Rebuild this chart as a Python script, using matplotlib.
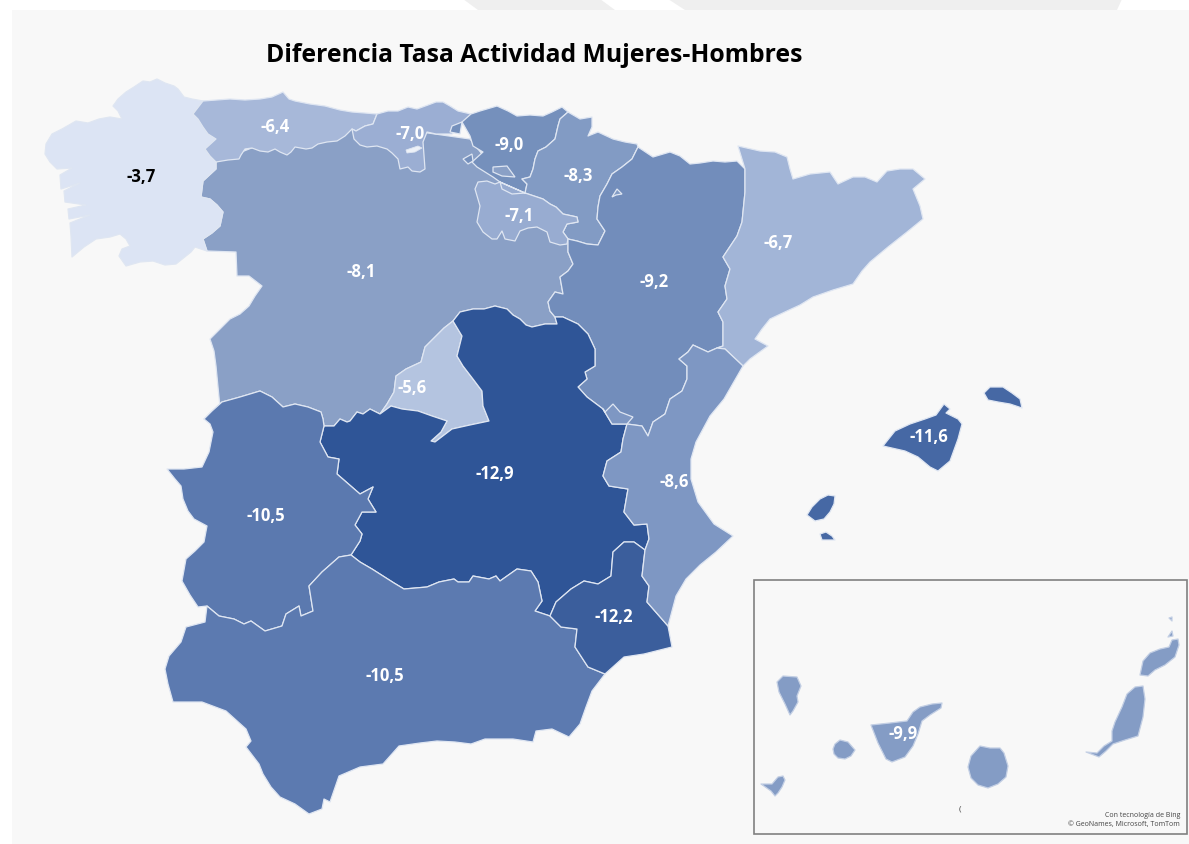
import matplotlib
matplotlib.use('Agg')
import matplotlib.pyplot as plt
from matplotlib.patches import Polygon, Rectangle

# Valores por comunidad autónoma (diferencia tasa actividad)
regions = ['Castilla y León', 'Galicia', 'Asturias', 'Cantabria', 'País Vasco', 'Navarra', 'La Rioja',
           'Aragón', 'Cataluña', 'Madrid', 'Castilla-La Mancha',
           'Extremadura', 'Andalucía', 'Murcia', 'C. Valenciana', 'Baleares', 'Canarias']
values = [-8.1, -3.7, -6.4, -7.0, -9.0, -8.3, -7.1, -9.2, -6.7, -5.6, -12.9,
          -10.5, -10.5, -12.2, -8.6, -11.6, -9.9]
colors = ['#8AA0C6', '#DCE4F4', '#A7B8D9', '#9BAED3', '#7590BC', '#829BC4', '#98ACD1',
          '#728DBB', '#A2B5D7', '#B4C4E0', '#2F5597',
          '#5B79AF', '#5C7AB0', '#3B5E9C', '#7E97C3', '#4668A4', '#849CC5']
label_x = [361, 141, 275, 410, 509, 578, 519, 654, 778, 412, 495, 266, 385, 614, 674, 929, 903]
label_y = [272, 177, 127, 134, 145, 176, 216, 282, 243, 388, 474, 516, 676, 617, 482, 437, 734]
label_colors = ['white', 'black'] + ['white'] * 15

title = 'Diferencia Tasa Actividad Mujeres-Hombres'
credits = 'Con tecnología de Bing\n© GeoNames, Microsoft, TomTom'

# Fronteras compartidas, en píxeles de la imagen
gal_coast = [(203,102),(192,100),(184,98),(178,90),(174,87),(165,84),(157,80),(150,83),(143,82),(134,88),(126,93),
             (118,100),(113,107),(118,112),(122,120),(110,118),(99,120),(88,124),(76,122),(62,130),(52,135),
             (46,145),(45,155),(50,163),(57,170),(72,169),(60,176),(61,190),(80,184),(64,192),
             (65,203),(86,206),(68,210),(69,220),(90,216),(70,224),(71,237),(72,258),(84,248),
             (96,240),(110,238),(120,235),(126,240),(130,247),(122,250),(119,257),(126,267),(140,263),(153,262),
             (165,266),(176,265),(191,253),(195,248),(207,252)]
gal_cyl = [(207,252),(203,240),(212,234),(220,227),(223,213),(217,206),(210,200),(201,198),(203,182),(216,170),(216,163)]
gal_ast = [(216,163),(210,157),(205,150),(216,140),(208,135),(203,128),(198,120),(193,115),(203,102)]
ast_coast = [(203,102),(230,100),(245,101),(260,100),(272,98),(283,93),(289,100),(295,102),(310,105),(325,107),
             (340,111),(352,113),(365,114),(377,115)]
ast_can = [(377,115),(373,125),(365,127),(356,132),(352,130)]
ast_cyl = [(352,130),(345,137),(337,142),(327,143),(318,145),(312,149),(306,150),(295,148),(291,153),(287,156),
           (280,153),(275,150),(268,153),(260,152),(252,149),(245,150),(241,156),(239,160),(228,161),(216,163)]
can_coast = [(377,115),(388,112),(398,112),(408,108),(417,110),(428,106),(436,103),(443,103),(450,107),(458,112),(471,115)]
can_rest = [(471,115),(465,123),(452,135),(436,135),(427,133),(423,143),(425,170),(420,173),(412,172),(408,168),(400,170),
            (398,160),(392,154),(387,150),(377,147),(367,148),(360,146),(354,140),(352,130)]
pv_coast = [(471,115),(480,112),(497,107),(508,112),(517,117),(530,116),(543,117),(552,113),(562,108),(568,113)]
pv_nav = [(568,113),(560,120),(558,127),(555,140),(546,148),(538,152),(535,160),(533,170),(530,178),(522,180),(527,185),(525,194)]
pv_rio = [(525,194),(512,195),(502,190),(500,183)]
pv_cyl = [(500,183),(493,178),(485,173),(477,168),(472,163),(483,153),(473,147),(470,137),(462,123),(471,115)]
nav_coast = [(568,113),(580,120),(592,118),(592,128),(588,137),(598,133),(613,140),(625,143),(637,145),(638,148)]
nav_ara = [(638,148),(632,160),(622,168),(612,175),(607,185),(600,197),(598,208),(597,220),(605,232),(598,246),(587,245),(577,242),(568,240)]
nav_rio = [(568,240),(563,233),(567,225),(578,223),(577,218),(563,215),(556,208),(550,205),(543,200),(534,197),(525,194)]
rio_cyl = [(500,183),(495,185),(487,182),(478,183),(475,190),(480,207),(477,223),(483,233),(492,240),
           (497,240),(502,232),(505,240),(515,242),(520,232),(528,229),(537,228),(547,233),(550,243),(560,246),(567,245),(568,240)]
cyl_ara = [(568,240),(568,253),(573,265),(568,272),(560,278),(563,295),(555,293),(548,303),(550,312),(555,318)]
cyl_clm = [(555,318),(557,325),(545,325),(532,328),(526,326),(520,320),(513,316),(507,310),(495,307),(484,310),(473,310),(460,313),(453,322)]
mad_west = [(453,322),(444,329),(436,337),(425,348),(421,363),(406,370),(396,377),(394,393),(387,405),(380,415)]
cyl_clm2 = [(380,415),(370,410),(363,415),(357,413),(350,422),(347,423),(340,420),(334,427),(324,427)]
cyl_ext = [(324,427),(323,420),(321,413),(308,408),(295,405),(283,408),(272,398),(260,392),(240,398),(222,403),(212,412),(204,420)]
cyl_port = [(204,420),(220,408),(218,388),(216,367),(214,352),(210,340),(220,330),(230,320),(240,315),(249,307),(255,297),(262,287),(249,277),(237,277),
            (236,253),(207,252)]
ext_west = [(204,420),(210,425),(213,433),(209,453),(202,468),(184,470),(167,470),(175,480),(181,487),(183,500),(188,512),(194,520),
            (207,527),(204,543),(195,552),(186,560),(182,582),(190,596),(198,608),(207,607)]
ext_and = [(207,607),(219,617),(234,620),(244,625),(251,622),(265,632),(282,627),(286,615),(299,607),
           (301,617),(313,612),(309,587),(322,573),(339,558),(351,556)]
ext_clm = [(351,556),(360,542),(362,535),(355,526),(362,513),(376,513),(368,500),(373,488),(360,495),
           (337,475),(339,460),(328,458),(320,443),(324,427)]
and_coast = [(207,607),(205,623),(186,628),(181,643),(169,657),(165,670),(168,685),(173,703),(202,703),(226,712),
             (246,730),(251,742),(246,748),(259,765),(263,775),(271,788),(280,798),(295,805),(309,815),(322,810),(324,800),
             (330,803),(339,777),(360,768),(383,765),(399,747),(420,744),(437,742),(455,743),(471,745),(485,740),(513,740),
             (533,743),(536,732),(552,730),(569,738),(580,725),(586,708),(592,692),(605,675)]
and_mur = [(605,675),(588,668),(575,648),(577,630),(561,628),(550,617)]
and_clm = [(550,617),(535,612),(542,602),(538,583),(531,572),(517,570),(500,582),(496,577),(489,580),
           (473,577),(469,583),(458,583),(454,580),(439,583),(427,588),(404,590),(394,584),(383,577),(372,570),(360,563),(351,556)]
mad_south = [(380,415),(391,407),(402,410),(418,412),(432,417),(447,422),(441,433),(431,442),(435,443),(452,430),(470,426),(489,422)]
mad_east = [(489,422),(483,407),(482,392),(473,380),(463,367),(457,357),(462,337),(453,322)]
clm_ara = [(555,318),(563,318),(578,325),(588,335),(595,350),(595,367),(585,373),(587,380),(578,388),
           (587,398),(603,410)]
ademuz = [(603,410),(605,413),(613,405),(620,413),(633,418),(627,425)]
ademuz_clm = [(603,410),(612,425),(627,425)]
clm_val = [(627,425),(623,440),(621,453),(607,462),(603,477),(609,487),(628,490),(624,513),(634,526),
           (647,525),(649,540),(645,551)]
clm_mur = [(645,551),(634,543),(624,543),(613,553),(611,577),(598,585),(584,582),(571,590),(556,603),(550,617)]
ara_top = [(638,148),(653,158),(670,153),(680,157),(690,165),(700,164),(713,162),(725,163),(737,162),(745,170)]
ara_cat = [(745,170),(745,193),(742,223),(737,237),(723,258),(730,270),(725,287),(727,300),(718,313),
           (723,323),(723,347),(717,349)]
ara_val = [(717,349),(708,353),(693,346),(688,353),(679,360),(687,367),(687,380),(682,392),(670,400),
           (665,415),(653,423),(648,437),(642,427),(627,425)]
cat_coast = [(745,170),(738,147),(760,152),(775,153),(787,158),(790,170),(793,180),(810,175),(830,173),(838,185),(853,178),
             (865,178),(877,183),(887,172),(900,170),(913,170),(925,180),(913,190),(920,207),(923,220),(907,233),(888,248),(870,263),
             (862,272),(853,285),(833,291),(813,298),(800,306),(787,312),(770,320),(762,330),(755,340),(768,347),(750,360),(743,367)]
cat_val = [(743,367),(725,350),(717,349)]
val_coast = [(743,367),(724,400),(710,417),(703,430),(696,443),(691,460),(691,480),(698,503),(714,525),(733,537),(716,553),
             (700,566),(686,580),(676,597),(672,612),(668,627)]
val_mur = [(668,627),(647,603),(649,587),(642,577),(645,551)]
mur_coast = [(668,627),(672,648),(644,655),(624,658),(605,675)]

# Islas y enclaves
mallorca = [(883,447),(895,432),(910,425),(925,420),(936,416),(944,405),(950,410),(946,414),(958,420),(962,425),(958,440),
            (950,462),(938,472),(930,468),(918,458),(905,452)]
menorca = [(984,394),(990,388),(1003,388),(1012,394),(1020,400),(1022,409),(1010,405),(998,403),(988,401)]
ibiza = [(807,516),(812,508),(820,500),(828,496),(835,497),(834,505),(830,513),(824,520),(815,522)]
formentera = [(820,535),(826,533),(832,537),(835,541),(822,541)]
la_palma = [(777,683),(783,677),(797,678),(801,687),(797,697),(798,703),(793,712),(790,716),(785,705),(779,693)]
el_hierro = [(761,785),(772,785),(778,778),(783,777),(785,781),(782,788),(778,794),(775,797),(771,792)]
gomera = [(833,750),(835,745),(840,741),(848,743),(855,751),(851,757),(845,760),(838,759),(834,755)]
tenerife = [(871,726),(890,724),(907,722),(913,713),(920,708),(932,705),(942,704),(941,709),(930,716),(922,722),(918,735),
            (913,747),(905,758),(892,763),(886,760),(878,744)]
gran_canaria = [(968,768),(971,757),(980,747),(990,749),(1000,749),(1004,754),(1008,767),(1006,778),(998,785),(988,789),(978,786),(971,779)]
fuerteventura = [(1086,753),(1097,754),(1104,747),(1112,742),(1112,732),(1115,723),(1122,708),(1127,695),(1135,688),(1143,687),(1145,700),(1143,718),
                 (1138,737),(1125,741),(1113,745),(1106,752),(1099,758)]
lanzarote = [(1140,676),(1143,662),(1150,654),(1160,650),(1169,648),(1172,641),(1178,640),(1179,646),(1175,658),(1165,666),(1155,671),(1148,677)]
graciosa = [(1168,638),(1172,632),(1173,637)]
alegranza = [(1169,619),(1172,618),(1172,622)]
trevino = [(493,168),(507,167),(515,178),(502,177),(493,173)]
villaverde = [(452,127),(462,123),(460,135),(450,133)]
orduna = [(463,160),(472,155),(473,162),(468,165)]
petilla = [(612,198),(617,190),(622,195),(616,196)]
embalse = [(406,151),(418,147),(422,149),(415,153),(407,154)]


def rev(border):
    return border[::-1]


# Castilla y León va debajo, sus vecinos dibujan las fronteras del norte
shapes = {
    'Castilla y León': [gal_cyl + [(300,130),(400,130),(470,140),(510,190)] + cyl_ara
                        + cyl_clm + mad_west + cyl_clm2 + cyl_ext + cyl_port],
    'Galicia': [gal_coast + gal_cyl + gal_ast],
    'Asturias': [ast_coast + ast_can + ast_cyl + gal_ast],
    'Cantabria': [can_coast + can_rest + rev(ast_can)],
    'País Vasco': [pv_coast + pv_nav + pv_rio + pv_cyl],
    'Navarra': [nav_coast + nav_ara + nav_rio + rev(pv_nav)],
    'La Rioja': [rev(pv_rio) + rio_cyl + nav_rio],
    'Aragón': [ara_top + ara_cat + ara_val + rev(ademuz_clm) + rev(clm_ara) + rev(cyl_ara) + rev(nav_ara)],
    'Cataluña': [cat_coast + cat_val + rev(ara_cat)],
    'Madrid': [mad_west + mad_south + mad_east],
    'Castilla-La Mancha': [rev(cyl_clm) + clm_ara + ademuz_clm + clm_val + clm_mur + and_clm + ext_clm
                           + rev(cyl_clm2) + mad_south + mad_east],
    'Extremadura': [ext_west + ext_and + ext_clm + cyl_ext],
    'Andalucía': [and_coast + and_mur + and_clm + rev(ext_and)],
    'Murcia': [rev(clm_mur) + rev(val_mur) + mur_coast + and_mur],
    'C. Valenciana': [val_coast + val_mur + rev(clm_val) + rev(ara_val) + rev(cat_val)],
    'Baleares': [mallorca, menorca, ibiza, formentera],
    'Canarias': [la_palma, el_hierro, gomera, tenerife, gran_canaria, fuerteventura, lanzarote, graciosa, alegranza],
}

plt.rcParams['font.family'] = ['Open Sans', 'DejaVu Sans']
fig = plt.figure(figsize=(11.89, 8.45), dpi=100, facecolor='white')
ax = fig.add_axes([0, 0, 1, 1])
ax.set_xlim(0, 1189)
ax.set_ylim(845, 0)
ax.axis('off')

# Fondo del panel y banda gris de arriba
ax.add_patch(Rectangle((12, 11), 1177, 834, fc='#F8F8F8', ec='none', zorder=0))
ax.add_patch(Polygon([(463,0),(600,0),(615,11),(478,11)], fc='#EFEFEF', ec='none', zorder=0))
ax.add_patch(Polygon([(668,0),(1122,0),(1117,11),(685,11)], fc='#EFEFEF', ec='none', zorder=0))

edge = '#DFE6F2'
for name, color in zip(regions, colors):
    # las Canarias tienen un borde más difuso
    ec = '#C3CFE4' if name == 'Canarias' else edge
    for part in shapes[name]:
        ax.add_patch(Polygon(part, closed=True, fc=color, ec=ec, lw=0.9, joinstyle='round', zorder=2))

# Enclaves encima de todo
ax.add_patch(Polygon(ademuz + [(612,425)], fc=colors[14], ec=edge, lw=0.9, zorder=3))
ax.add_patch(Polygon(trevino, fc=colors[0], ec=edge, lw=0.9, zorder=3))
ax.add_patch(Polygon(villaverde, fc=colors[4], ec=edge, lw=0.9, zorder=3))
ax.add_patch(Polygon(orduna, fc=colors[4], ec=edge, lw=0.9, zorder=3))
ax.add_patch(Polygon(petilla, fc=colors[5], ec=edge, lw=0.9, zorder=3))
ax.add_patch(Polygon(embalse, fc='#EEF2F8', ec=edge, lw=0.6, zorder=3))

for x, y, v, c in zip(label_x, label_y, values, label_colors):
    txt = f'{v:.1f}'.replace('.', ',')
    ax.text(x, y, txt, color=c, fontsize=12, fontweight='bold', ha='center', va='center', zorder=5)

ax.text(534, 55, title, fontsize=17.8, fontweight='bold', color='black', ha='center', va='center', zorder=5)

# Recuadro de Canarias
ax.add_patch(Rectangle((754, 581), 433, 254, fc='none', ec='#808080', lw=1.2, zorder=1))
ax.text(1180, 820, credits, fontsize=5, color='#444444', ha='right', va='center', linespacing=1.5, zorder=5)
ax.text(960, 809, '(', fontsize=6, color='#444444', ha='center', va='center', zorder=5)

fig.savefig('out.png', dpi=100, facecolor='white')
